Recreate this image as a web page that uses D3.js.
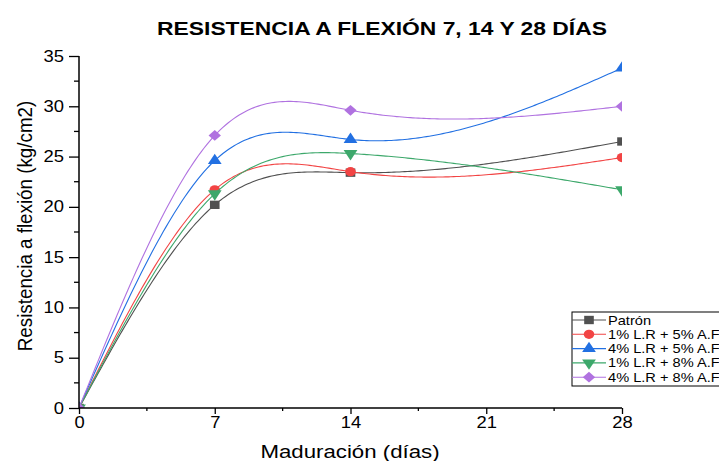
<!DOCTYPE html>
<html><head><meta charset="utf-8">
<script src="https://cdn.jsdelivr.net/npm/d3@7"></script>
<style>body{margin:0;background:#fff}svg{display:block}text{font-family:"Liberation Sans",Arial,sans-serif}</style>
</head><body>
<svg id="c" width="719" height="461"></svg>
<script>
const days = [0, 7, 14, 28];
const seriesNames = ["Patrón", "1% L.R + 5% A.F", "4% L.R + 5% A.F", "1% L.R + 8% A.F", "4% L.R + 8% A.F"];
const patron = [0, 20.2, 23.4, 26.5];
const lr1af5 = [0, 21.7, 23.5, 24.9];
const lr4af5 = [0, 24.6, 26.7, 33.8];
const lr1af8 = [0, 21.3, 25.3, 21.7];
const lr4af8 = [0, 27.1, 29.6, 30.0];
const xTicks = [0, 7, 14, 21, 28];
const yTicks = [0, 5, 10, 15, 20, 25, 30, 35];
const colors = ["#505050", "#F24444", "#2270E2", "#3DA86B", "#B072E0"];
const symbols = ["square", "circle", "triUp", "triDown", "diamond"];

const SX = 1.27;   // horizontal stretch of text
const MX = 1.15;   // horizontal stretch of markers

const svg = d3.select("#c");
const x = d3.scaleLinear().domain([0, 28]).range([79, 622]);
const y = d3.scaleLinear().domain([0, 35]).range([408, 56]);

// natural cubic spline in x
function spline(xs, ys) {
  const n = xs.length - 1, h = [], a = [], l = [1], mu = [0], z = [0], c = new Array(n + 1).fill(0), b = [], d = [];
  for (let i = 0; i < n; i++) h[i] = xs[i + 1] - xs[i];
  for (let i = 1; i < n; i++) a[i] = 3 / h[i] * (ys[i + 1] - ys[i]) - 3 / h[i - 1] * (ys[i] - ys[i - 1]);
  for (let i = 1; i < n; i++) {
    l[i] = 2 * (xs[i + 1] - xs[i - 1]) - h[i - 1] * mu[i - 1];
    mu[i] = h[i] / l[i];
    z[i] = (a[i] - h[i - 1] * z[i - 1]) / l[i];
  }
  for (let j = n - 1; j >= 0; j--) {
    c[j] = z[j] - mu[j] * c[j + 1];
    b[j] = (ys[j + 1] - ys[j]) / h[j] - h[j] * (c[j + 1] + 2 * c[j]) / 3;
    d[j] = (c[j + 1] - c[j]) / (3 * h[j]);
  }
  const out = [];
  const N = 200;
  for (let k = 0; k <= N; k++) {
    const t = xs[0] + (xs[n] - xs[0]) * k / N;
    let j = 0;
    while (j < n - 1 && t > xs[j + 1]) j++;
    const dx = t - xs[j];
    out.push([t, ys[j] + b[j] * dx + c[j] * dx * dx + d[j] * dx * dx * dx]);
  }
  return out;
}

function symPath(kind) {
  if (kind === "square") return d3.symbol(d3.symbolSquare, 70)();
  if (kind === "circle") return d3.symbol(d3.symbolCircle, 66)();
  if (kind === "triUp") return d3.symbol(d3.symbolTriangle, 62)();
  if (kind === "triDown") return d3.symbol(d3.symbolTriangle, 62)();
  return d3.symbol(d3.symbolSquare, 58)();
}
function symTf(kind) {
  const r = kind === "triDown" ? 180 : kind === "diamond" ? 45 : 0;
  return `scale(${MX},1) rotate(${r})`;
}

// title
svg.append("text").attr("transform", `translate(382,35) scale(${SX},1)`).attr("text-anchor", "middle")
  .style("font-size", "18px").style("font-weight", "bold").text("RESISTENCIA A FLEXIÓN 7, 14 Y 28 DÍAS");

// clip
svg.append("clipPath").attr("id", "plot").append("rect")
  .attr("x", x(0)).attr("y", y(35) - 10).attr("width", x(28) - x(0)).attr("height", y(0) - y(35) + 10);

const allData = [patron, lr1af5, lr4af5, lr1af8, lr4af8];
const g = svg.append("g").attr("clip-path", "url(#plot)");
const line = d3.line().x(d => x(d[0])).y(d => y(d[1]));
allData.forEach((vals, i) => {
  const sg = g.append("g");
  sg.append("path").attr("d", line(spline(days, vals))).attr("fill", "none")
    .attr("stroke", colors[i]).attr("stroke-width", 1.1);
  sg.selectAll("path.m").data(days.map((d, k) => [d, vals[k]])).enter().append("path")
    .attr("class", "m").attr("d", symPath(symbols[i]))
    .attr("transform", d => `translate(${x(d[0])},${y(d[1])}) ${symTf(symbols[i])}`)
    .attr("fill", colors[i]);
});

// axes
const xAxis = svg.append("g").attr("transform", `translate(0,${y(0)})`);
xAxis.call(d3.axisBottom(x).tickValues(xTicks).tickSize(6).tickPadding(3).tickFormat(d3.format("d")));
xAxis.append("g").selectAll("line").data([3.5, 10.5, 17.5, 24.5]).enter().append("line")
  .attr("x1", d => x(d)).attr("x2", d => x(d)).attr("y1", 0).attr("y2", 3).attr("stroke", "#000").attr("stroke-width", 1.3);
const yAxis = svg.append("g").attr("transform", `translate(${x(0)},0)`);
yAxis.call(d3.axisLeft(y).tickValues(yTicks).tickSize(10).tickPadding(5).tickFormat(d3.format("d")));
yAxis.append("g").selectAll("line").data([2.5, 7.5, 12.5, 17.5, 22.5, 27.5, 32.5]).enter().append("line")
  .attr("y1", d => y(d)).attr("y2", d => y(d)).attr("x1", 0).attr("x2", -5).attr("stroke", "#000").attr("stroke-width", 1.3);
[xAxis, yAxis].forEach(a => {
  a.select(".domain").attr("stroke", "#000").attr("stroke-width", 1.5);
  a.selectAll(".tick line").attr("stroke", "#000").attr("stroke-width", 1.3);
  a.selectAll(".tick text").style("font-size", "16px").style("font-family", "'Liberation Sans',Arial,sans-serif").attr("fill", "#000");
});
xAxis.selectAll(".tick text").attr("transform", "scale(1.15,1)");
yAxis.selectAll(".tick text").attr("x", -15 / 1.15).attr("transform", "scale(1.15,1)");
xAxis.select(".domain").attr("d", `M${x(0)},0H${x(28)}`);
yAxis.select(".domain").attr("d", `M0,${y(0)}V${y(35)}`);

// axis labels
svg.append("text").attr("transform", `translate(350,458) scale(${SX},1)`).attr("text-anchor", "middle")
  .style("font-size", "17.5px").text("Maduración (días)");
svg.append("text").attr("transform", `translate(32,226) scale(1.12,1) rotate(-90)`).attr("text-anchor", "middle")
  .style("font-size", "18.8px").text("Resistencia a flexión (kg/cm2)");

// legend
const lg = svg.append("g").attr("transform", "translate(572,312)");
lg.append("rect").attr("x", 0).attr("y", 0).attr("width", 200).attr("height", 74)
  .attr("fill", "#fff").attr("stroke", "#000").attr("stroke-width", 1);
seriesNames.forEach((name, i) => {
  const yy = 8 + i * 14.3;
  lg.append("line").attr("x1", 0).attr("x2", 34).attr("y1", yy).attr("y2", yy).attr("stroke", colors[i]).attr("stroke-width", 1.1);
  lg.append("path").attr("d", symPath(symbols[i])).attr("transform", `translate(17,${yy}) ${symTf(symbols[i])}`).attr("fill", colors[i]);
  lg.append("text").attr("transform", `translate(36,${yy + 4.5}) scale(1.17,1)`).style("font-size", "12.5px").text(name);
});
</script>
</body></html>
